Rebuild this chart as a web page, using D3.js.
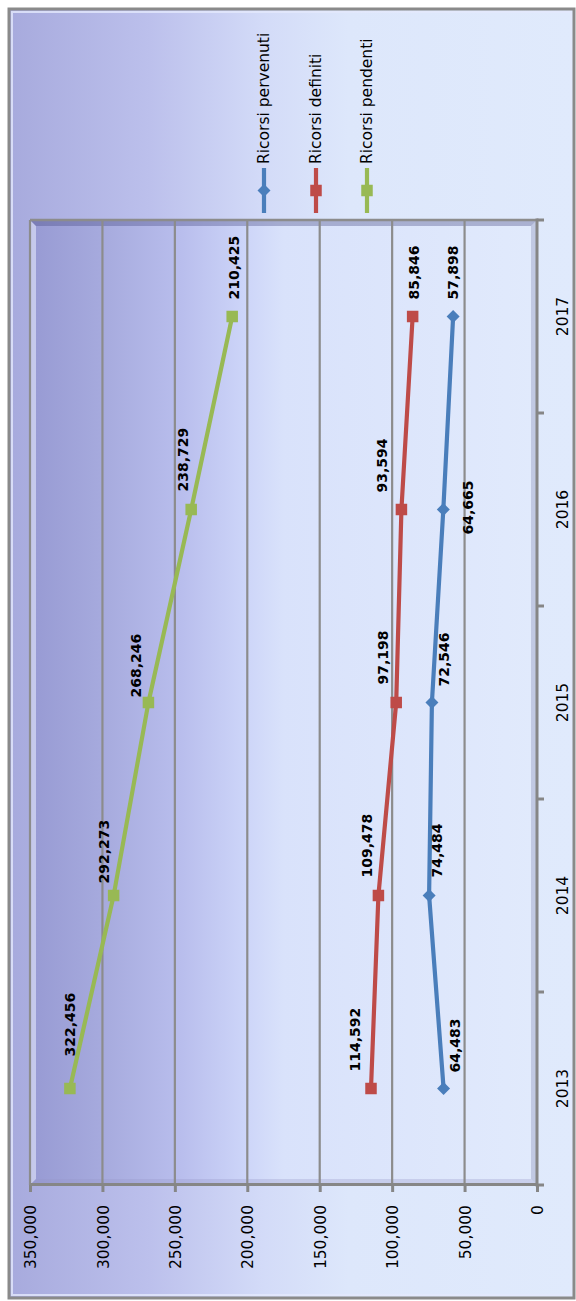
<!DOCTYPE html>
<html>
<head>
<meta charset="utf-8">
<script src="https://cdn.jsdelivr.net/npm/d3@7"></script>
<style>
  html, body { margin: 0; padding: 0; background: #ffffff; }
  svg { display: block; }
</style>
</head>
<body>
<svg id="chart" width="576" height="1301"></svg>
<script>
// ---------- data ----------
const categories = ["2013", "2014", "2015", "2016", "2017"];
const pervenuti = [64483, 74484, 72546, 64665, 57898];
const definiti = [114592, 109478, 97198, 93594, 85846];
const pendenti = [322456, 292273, 268246, 238729, 210425];
const seriesNames = ["Ricorsi pervenuti", "Ricorsi definiti", "Ricorsi pendenti"];
const valueTicks = [0, 50000, 100000, 150000, 200000, 250000, 300000, 350000];

// ---------- layout / style (kept apart from data) ----------
const IMG_W = 576, IMG_H = 1301;
const seriesColors = ["#4a7ebb", "#be4b48", "#98b954"];
const seriesMarkers = ["diamond", "square", "square"];
// label offsets in unrotated chart coords: [gap along category axis, shift along value axis]
const labelOffsets = [
  [[16, 11], [18, 8], [16, 12], [-25, 25], [17, 0]],
  [[17, -16], [18, -11], [18, -13], [17, -19], [17, 1]],
  [[32, 0], [12, -10], [5, -12], [18, -8], [17, 2]]
];

const svg = d3.select("#chart");
const defs = svg.append("defs");

// chart area gradient (image horizontal)
const gOuter = defs.append("linearGradient").attr("id", "outerGrad")
  .attr("x1", "0").attr("y1", "0").attr("x2", "1").attr("y2", "0");
[["0%", "#a7aadd"], ["25%", "#bcc0ec"], ["45%", "#d3dbf8"], ["60%", "#dde7fb"], ["100%", "#e0eafc"]]
  .forEach(s => gOuter.append("stop").attr("offset", s[0]).attr("stop-color", s[1]));

const gPlot = defs.append("linearGradient").attr("id", "plotGrad")
  .attr("x1", "0").attr("y1", "0").attr("x2", "1").attr("y2", "0");
[["0%", "#979ad3"], ["15%", "#a7abde"], ["30%", "#b9beed"], ["42%", "#ccd4f8"], ["50%", "#d9e2fb"], ["100%", "#e1eafc"]]
  .forEach(s => gPlot.append("stop").attr("offset", s[0]).attr("stop-color", s[1]));

// ---------- chart area (image coords) ----------
svg.append("rect").attr("x", 9).attr("y", 9).attr("width", 565).attr("height", 1289)
  .attr("fill", "url(#outerGrad)").attr("stroke", "#8a8a8a").attr("stroke-width", 3);
svg.append("rect").attr("x", 12).attr("y", 12).attr("width", 559).attr("height", 1283)
  .attr("fill", "none").attr("stroke", "#e4e8fc").attr("stroke-width", 2).attr("opacity", 0.8);

// ---------- rotated chart group (original orientation) ----------
// original coords: u (horizontal, 0..IMG_H) , v (vertical, 0..IMG_W)
const g = svg.append("g").attr("transform", `translate(0,${IMG_H}) rotate(-90)`);

const plotL = 116, plotR = 1081, plotT = 30, plotB = 537;

const xBand = d3.scaleBand().domain(categories).range([plotL, plotR]).paddingInner(0).paddingOuter(0);
const xPt = d3.scalePoint().domain(categories).range([plotL, plotR]).padding(0.5);
const y = d3.scaleLinear().domain([0, 350000]).range([plotB, plotT]);

// plot area background: in original coords, gradient runs along v (top = dark)
const gPlotV = defs.append("linearGradient").attr("id", "plotGradV")
  .attr("gradientUnits", "userSpaceOnUse")
  .attr("x1", 0).attr("y1", plotT).attr("x2", 0).attr("y2", plotB);
[["0%", "#979ad3"], ["15%", "#a7abde"], ["30%", "#b9beed"], ["42%", "#ccd4f8"], ["50%", "#d9e2fb"], ["100%", "#e1eafc"]]
  .forEach(s => gPlotV.append("stop").attr("offset", s[0]).attr("stop-color", s[1]));

g.append("rect").attr("x", plotL).attr("y", plotT)
  .attr("width", plotR - plotL).attr("height", plotB - plotT)
  .attr("fill", "url(#plotGradV)");

// bevel strips inside plot area
const bw = 6;
const bevel = [
  // top (original) -> image left : light
  { pts: [[plotL, plotT], [plotR, plotT], [plotR - bw, plotT + bw], [plotL + bw, plotT + bw]], fill: "rgba(235,238,255,0.55)" },
  // right (original) -> image top : dark
  { pts: [[plotR, plotT], [plotR, plotB], [plotR - bw, plotB - bw], [plotR - bw, plotT + bw]], fill: "rgba(70,72,130,0.35)" },
  // bottom (original) -> image right : darkish
  { pts: [[plotL, plotB], [plotR, plotB], [plotR - bw, plotB - bw], [plotL + bw, plotB - bw]], fill: "rgba(110,115,160,0.28)" },
  // left (original) -> image bottom : mid
  { pts: [[plotL, plotT], [plotL, plotB], [plotL + bw, plotB - bw], [plotL + bw, plotT + bw]], fill: "rgba(150,150,200,0.3)" }
];
g.selectAll("polygon.bevel").data(bevel).enter().append("polygon")
  .attr("class", "bevel")
  .attr("points", d => d.pts.map(p => p.join(",")).join(" "))
  .attr("fill", d => d.fill);

// gridlines
g.selectAll("line.grid").data(valueTicks.filter(t => t > 0)).enter().append("line")
  .attr("class", "grid")
  .attr("x1", plotL).attr("x2", plotR)
  .attr("y1", d => y(d)).attr("y2", d => y(d))
  .attr("stroke", "#8c8c8c").attr("stroke-width", 2.2);

// plot area border (right side in original)
g.append("line").attr("x1", plotR).attr("x2", plotR).attr("y1", plotT).attr("y2", plotB)
  .attr("stroke", "#8c8c8c").attr("stroke-width", 2.5);

// value axis (left in original)
const yAxis = d3.axisLeft(y).tickValues(valueTicks).tickFormat(d3.format(","))
  .tickSizeInner(7).tickSizeOuter(0).tickPadding(13);
const yAxisG = g.append("g").attr("transform", `translate(${plotL},0)`).call(yAxis);
yAxisG.select(".domain").attr("stroke", "#868686").attr("stroke-width", 3);
yAxisG.selectAll(".tick line").attr("stroke", "#868686").attr("stroke-width", 3);
yAxisG.selectAll(".tick text")
  .attr("font-family", "'DejaVu Sans', sans-serif").attr("font-size", "15.5px")
  .attr("fill", "#000").attr("dy", "0.36em");

// category axis (bottom in original)
g.append("line").attr("x1", plotL - 1.5).attr("x2", plotR + 1.5).attr("y1", plotB).attr("y2", plotB)
  .attr("stroke", "#868686").attr("stroke-width", 3);
const boundaries = categories.map(c => xBand(c)).concat([xBand(categories[categories.length - 1]) + xBand.bandwidth()]);
g.selectAll("line.ctick").data(boundaries).enter().append("line")
  .attr("class", "ctick")
  .attr("x1", d => d).attr("x2", d => d)
  .attr("y1", plotB).attr("y2", plotB + 7)
  .attr("stroke", "#868686").attr("stroke-width", 3);
g.selectAll("text.clabel").data(categories).enter().append("text")
  .attr("class", "clabel")
  .attr("x", d => xPt(d)).attr("y", plotB + 26)
  .attr("text-anchor", "middle").attr("dominant-baseline", "central")
  .attr("font-family", "'DejaVu Sans', sans-serif").attr("font-size", "15.5px")
  .attr("fill", "#000").text(d => d);

// series
const seriesValues = [pervenuti, definiti, pendenti];
const line = d3.line().x((d, i) => xPt(categories[i])).y(d => y(d));

function drawMarker(sel, type, color, cx, cy) {
  if (type === "diamond") {
    const r = 6.5;
    sel.append("path")
      .attr("d", `M${cx - r},${cy} L${cx},${cy - r} L${cx + r},${cy} L${cx},${cy + r} Z`)
      .attr("fill", color);
  } else {
    const s = 11.5;
    sel.append("rect").attr("x", cx - s / 2).attr("y", cy - s / 2)
      .attr("width", s).attr("height", s).attr("fill", color);
  }
}

// draw in order pendenti, definiti, pervenuti (Excel draws series in order; pervenuti first)
seriesValues.forEach((vals, si) => {
  const sg = g.append("g");
  sg.append("path").datum(vals).attr("d", line)
    .attr("fill", "none").attr("stroke", seriesColors[si]).attr("stroke-width", 4.2)
    .attr("stroke-linejoin", "round");
  vals.forEach((v, i) => drawMarker(sg, seriesMarkers[si], seriesColors[si], xPt(categories[i]), y(v)));
});

// data labels
seriesValues.forEach((vals, si) => {
  g.selectAll(null).data(vals).enter().append("text")
    .attr("x", (d, i) => xPt(categories[i]) + labelOffsets[si][i][0])
    .attr("y", (d, i) => y(d) + labelOffsets[si][i][1])
    .attr("text-anchor", "start").attr("dominant-baseline", "central")
    .attr("font-family", "'DejaVu Sans', sans-serif").attr("font-weight", "bold")
    .attr("font-size", "14px").attr("fill", "#000")
    .text(d => d3.format(",")(d));
});

// legend (right side in original)
const legendV = [264, 316, 367];
const legStart = 1088, legEnd = 1133, legText = 1137;
seriesNames.forEach((name, si) => {
  const lg = g.append("g");
  lg.append("line").attr("x1", legStart).attr("x2", legEnd)
    .attr("y1", legendV[si]).attr("y2", legendV[si])
    .attr("stroke", seriesColors[si]).attr("stroke-width", 4.2);
  drawMarker(lg, seriesMarkers[si], seriesColors[si], (legStart + legEnd) / 2, legendV[si]);
  lg.append("text").attr("x", legText).attr("y", legendV[si])
    .attr("dominant-baseline", "central")
    .attr("font-family", "'DejaVu Sans', sans-serif").attr("font-size", "15.5px")
    .attr("fill", "#000").text(name);
});
</script>
</body>
</html>
